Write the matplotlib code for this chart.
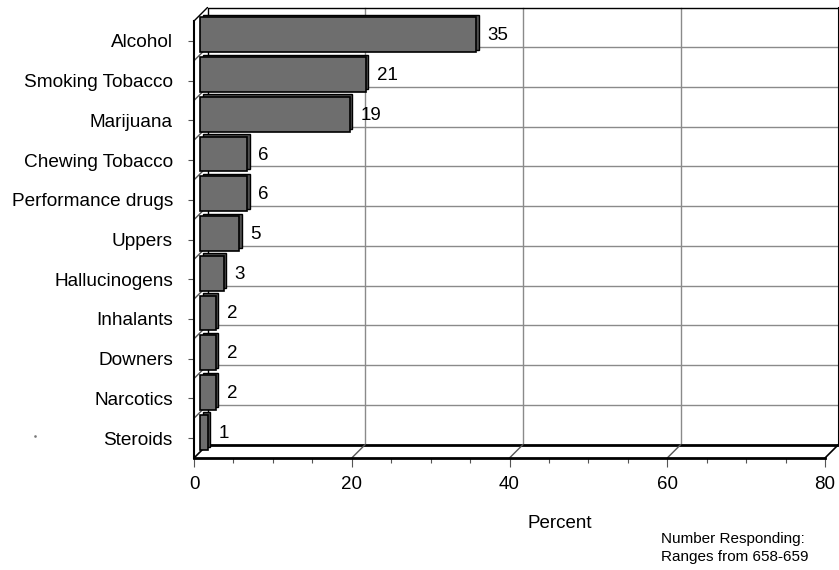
import matplotlib
matplotlib.use("Agg")
import matplotlib.pyplot as plt
from matplotlib.transforms import ScaledTranslation
from matplotlib.patches import ConnectionPatch
from matplotlib.lines import Line2D
import numpy as np

categories = ["Alcohol", "Smoking Tobacco", "Marijuana", "Chewing Tobacco",
              "Performance drugs", "Uppers", "Hallucinogens", "Inhalants",
              "Downers", "Narcotics", "Steroids"]
values = [35, 21, 19, 6, 6, 5, 3, 2, 2, 2, 1]
xticks = [0, 20, 40, 60, 80]
xlabel = "Percent"
note_lines = ["Number Responding:", "Ranges from 658-659"]

plt.rcParams["font.family"] = ["Liberation Sans", "DejaVu Sans"]
DPI = 100
W, H = 839, 570
fig = plt.figure(figsize=(W / DPI, H / DPI), dpi=DPI)
fig.patch.set_facecolor("white")

# front frame of the plot (pixels)
L, R, B, T = 194, 825, 458, 21
ax = fig.add_axes([L / W, 1 - B / H, (R - L) / W, (B - T) / H])
ax.set_facecolor("none")
for s in ax.spines.values():
    s.set_visible(False)

n = len(categories)
ax.set_xlim(xticks[0], xticks[-1])
ax.set_ylim(n - 0.5, -0.5)
x0, x1 = xticks[0], xticks[-1]
ytop, ybot = -0.5, n - 0.5


def off(dx, dy):
    return ax.transData + ScaledTranslation(dx / DPI, dy / DPI, fig.dpi_scale_trans)


back = off(13.5, 13.5)
front = ax.transData
bar_front = off(6, 6)
bar_back = off(8.5, 8.5)

grid_c = "#8a8a8a"
# back wall horizontal gridlines (category boundaries)
for b in np.arange(ytop + 1, ybot - 0.5, 1.0):
    ax.plot([x0, x1], [b, b], transform=back, color=grid_c, lw=1, clip_on=False, zorder=1)
# back wall vertical gridlines
for xv in xticks[1:-1]:
    ax.plot([xv, xv], [ybot, ytop], transform=back, color=grid_c, lw=1, clip_on=False, zorder=1)
# back wall frame
ax.plot([x0, x0, x1], [ybot, ytop, ytop], transform=back, color="black", lw=1, clip_on=False, zorder=1.5)
ax.plot([x1, x1], [ytop, ybot], transform=back, color="black", lw=1.5, clip_on=False, zorder=1.5)
ax.plot([x0, x1], [ybot, ybot], transform=back, color="black", lw=2, clip_on=False, zorder=1.5)

# left wall diagonals
for b in np.arange(ytop, ybot - 0.5, 1.0):
    c = "black" if b == ytop else "#555555"
    cp = ConnectionPatch(xyA=(x0, b), coordsA=front, xyB=(x0, b), coordsB=back,
                         color=c, lw=1, clip_on=False, zorder=1.6)
    ax.add_artist(cp)
# floor diagonals
for xv in xticks:
    c = "black" if xv in (x0, x1) else "#555555"
    cp = ConnectionPatch(xyA=(xv, ybot), coordsA=front, xyB=(xv, ybot), coordsB=back,
                         color=c, lw=1.2 if xv in (x0, x1) else 1, clip_on=False, zorder=1.6)
    ax.add_artist(cp)

# bars (3D look: darker back box + front face)
ypos = np.arange(n)
bh = 0.875
bb = ax.barh(ypos, values, height=bh, color="#4f4f4f", edgecolor="black", lw=1, zorder=3)
for r in bb:
    r.set_transform(bar_back)
    r.set_clip_on(False)
bf = ax.barh(ypos, values, height=bh, color="#6e6e6e", edgecolor="black", lw=1.2, zorder=4)
for r in bf:
    r.set_transform(bar_front)
    r.set_clip_on(False)

# value labels
for y, v in zip(ypos, values):
    ax.text(v, y, str(v), transform=off(17, 5), ha="left", va="center",
            fontsize=13.5, color="black", zorder=6)

# front axes lines
ax.plot([x0, x0], [ybot, ytop], transform=front, color="black", lw=1.5, clip_on=False, zorder=5)
ax.plot([x0, x1], [ybot, ybot], transform=front, color="black", lw=2, clip_on=False, zorder=5)

# ticks
ax.set_yticks(ypos)
ax.set_yticklabels(categories, fontsize=13.7)
ax.set_xticks(xticks)
ax.set_xticklabels([str(t) for t in xticks], fontsize=13.5)
ax.set_xticks(np.arange(x0, x1 + 0.1, 5), minor=True)
ax.tick_params(axis="y", which="major", length=4.3, width=0.8, color="#555555", pad=11)
ax.tick_params(axis="x", which="major", length=6.5, width=0.8, color="#555555", pad=6.5)
ax.tick_params(axis="x", which="minor", length=3.6, width=0.8, color="#555555")
ax.tick_params(axis="y", which="minor", left=False)

# axis title and note
fig.text(560 / W, 1 - 528 / H, xlabel, ha="center", va="baseline", fontsize=13.5)
fig.text(661 / W, 1 - 543.5 / H, note_lines[0], ha="left", va="baseline", fontsize=11)
fig.text(661 / W, 1 - 561 / H, note_lines[1], ha="left", va="baseline", fontsize=11)

# small stray dot present in the original
fig.add_artist(Line2D([35 / W], [1 - 436 / H], transform=fig.transFigure,
                      marker="s", ms=0.8, color="#777777", lw=0))

fig.savefig("out.png", dpi=DPI)
